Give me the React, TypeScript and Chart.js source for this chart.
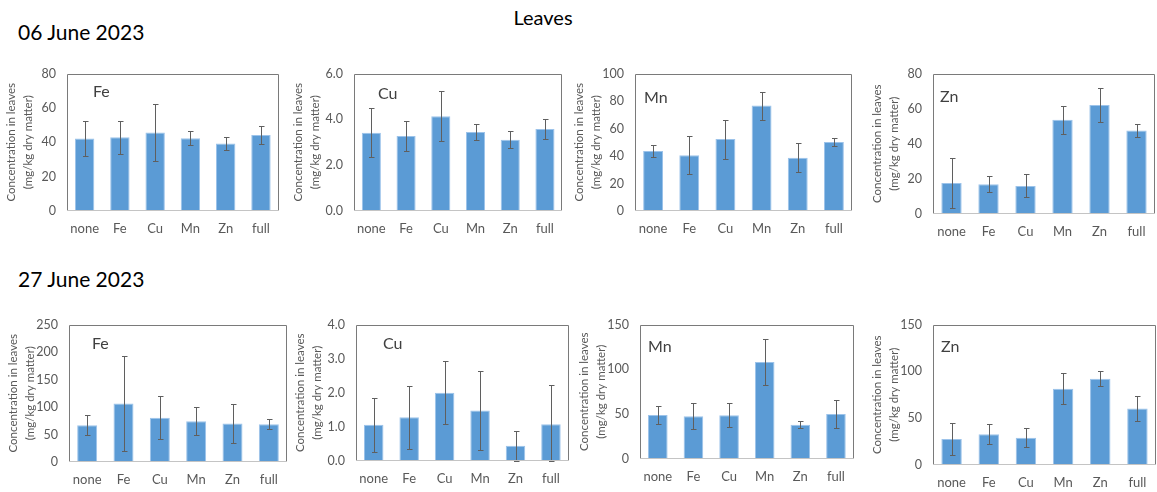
import React, { useEffect, useRef } from "react";
import { Chart, registerables } from "chart.js";
Chart.register(...registerables);

// ---------- data ----------
const categories = ["none", "Fe", "Cu", "Mn", "Zn", "full"];

const feJun06 = [42.2, 42.9, 45.7, 42.4, 39.3, 44.2];
const feJun06Err = [10.3, 9.6, 16.7, 4.2, 3.6, 5.2];
const cuJun06 = [3.42, 3.27, 4.14, 3.45, 3.11, 3.58];
const cuJun06Err = [1.06, 0.66, 1.08, 0.35, 0.38, 0.45];
const mnJun06 = [43.6, 40.6, 52.3, 76.7, 38.8, 50.2];
const mnJun06Err = [4.3, 13.6, 14.2, 10.2, 10.4, 3.1];
const znJun06 = [17.6, 17.0, 16.0, 53.6, 62.1, 47.5];
const znJun06Err = [14.4, 4.4, 6.5, 8.0, 9.6, 3.5];

const feJun27 = [66.8, 106.2, 80.5, 74.2, 70.2, 68.5];
const feJun27Err = [18.0, 86.5, 39.4, 25.7, 35.7, 9.4];
const cuJun27 = [1.06, 1.28, 2.0, 1.48, 0.45, 1.08];
const cuJun27Err = [0.79, 0.92, 0.93, 1.15, 0.44, 1.14];
const mnJun27 = [49.1, 47.7, 48.7, 108.2, 38.3, 50.1];
const mnJun27Err = [9.8, 14.8, 13.4, 26.0, 3.8, 16.0];
const znJun27 = [27.8, 32.8, 29.1, 81.4, 92.1, 60.3];
const znJun27Err = [16.6, 10.7, 10.2, 16.4, 7.9, 12.9];

const panelLabels = ["Fe", "Cu", "Mn", "Zn", "Fe", "Cu", "Mn", "Zn"];
const panelValues = [feJun06, cuJun06, mnJun06, znJun06, feJun27, cuJun27, mnJun27, znJun27];
const panelErrors = [feJun06Err, cuJun06Err, mnJun06Err, znJun06Err, feJun27Err, cuJun27Err, mnJun27Err, znJun27Err];
const yMaxes = [80, 6, 100, 80, 250, 4, 150, 150];
const ySteps = [20, 2, 20, 20, 50, 1, 50, 50];
const yDecimals = [0, 1, 0, 0, 0, 1, 0, 0];

const pageTitle = "Leaves";
const dateLabels = ["06 June 2023", "27 June 2023"];
const yTitleLines = ["Concentration in leaves", "(mg/kg dry matter)"];

// ---------- layout (plot areas in page px) ----------
const plotBoxes = [
  { l: 67, r: 279, t: 65, b: 211, lx: 26, ly: 18 },
  { l: 354, r: 563, t: 65, b: 211, lx: 24, ly: 20 },
  { l: 635, r: 852, t: 65, b: 211, lx: 9, ly: 24 },
  { l: 933, r: 1155, t: 65, b: 214, lx: 7, ly: 23 },
  { l: 69, r: 287, t: 316, b: 462, lx: 23, ly: 19 },
  { l: 356, r: 569, t: 316, b: 461, lx: 27, ly: 19 },
  { l: 640, r: 854, t: 316, b: 459, lx: 8, ly: 22 },
  { l: 933, r: 1156, t: 316, b: 465, lx: 8, ly: 22 },
];

const FONT = "Lato, 'Open Sans', sans-serif";
const Y_W = 66;
const X_H = 30;
const PAD_T = 10;
const PAD_R = 1;

function Panel({ idx }: { idx: number }) {
  const ref = useRef<HTMLCanvasElement>(null);
  const box = plotBoxes[idx];
  const left = box.l - Y_W;
  const top = box.t - PAD_T;
  const width = box.r + PAD_R - left;
  const height = box.b + X_H - top;

  useEffect(() => {
    const values = panelValues[idx];
    const errs = panelErrors[idx];
    const dec = yDecimals[idx];
    const errorBars = {
      id: "errorBars" + idx,
      afterDatasetsDraw(chart: any) {
        const meta = chart.getDatasetMeta(0);
        const y = chart.scales.y;
        const ctx = chart.ctx;
        ctx.save();
        ctx.strokeStyle = "#5f5f5f";
        ctx.lineWidth = 1;
        meta.data.forEach((bar: any, i: number) => {
          const v = values[i];
          const yt = Math.round(y.getPixelForValue(v + errs[i])) + 0.5;
          const yb = Math.round(y.getPixelForValue(Math.max(0, v - errs[i]))) + 0.5;
          const x = Math.round(bar.x) + 0.5;
          ctx.beginPath();
          ctx.moveTo(x, yt);
          ctx.lineTo(x, yb);
          ctx.moveTo(x - 2.5, yt);
          ctx.lineTo(x + 3, yt);
          ctx.moveTo(x - 2.5, yb);
          ctx.lineTo(x + 3, yb);
          ctx.stroke();
        });
        ctx.restore();
      },
    };
    const frame = {
      id: "frame" + idx,
      afterDraw(chart: any) {
        const a = chart.chartArea;
        const ctx = chart.ctx;
        ctx.save();
        ctx.lineWidth = 1;
        ctx.strokeStyle = "#7a7a7a";
        const L = Math.round(a.left) + 0.5;
        const R = Math.round(a.right) - 0.5;
        const T = Math.round(a.top) + 0.5;
        const B = Math.round(a.bottom) - 0.5;
        ctx.beginPath();
        ctx.moveTo(L, B);
        ctx.lineTo(L, T);
        ctx.lineTo(R, T);
        ctx.lineTo(R, B);
        ctx.stroke();
        ctx.strokeStyle = "#c4c4c4";
        ctx.beginPath();
        ctx.moveTo(L, B);
        ctx.lineTo(R, B);
        ctx.stroke();
        ctx.fillStyle = "#404040";
        ctx.font = "16px " + FONT;
        ctx.textBaseline = "middle";
        ctx.textAlign = "left";
        ctx.fillText(panelLabels[idx], a.left + box.lx, a.top + box.ly);
        ctx.restore();
      },
    };
    const chart = new Chart(ref.current as HTMLCanvasElement, {
      type: "bar",
      data: {
        labels: categories,
        datasets: [
          {
            data: values,
            backgroundColor: "#5B9BD5",
            borderColor: "#9cc3ea",
            borderWidth: 1,
            barPercentage: 0.55,
            categoryPercentage: 1,
          },
        ],
      },
      options: {
        animation: false,
        responsive: true,
        maintainAspectRatio: false,
        layout: { autoPadding: false, padding: { top: PAD_T, right: PAD_R, left: 0, bottom: 0 } } as any,
        plugins: { legend: { display: false }, tooltip: { enabled: false } },
        scales: {
          x: {
            grid: { display: false, drawTicks: false },
            border: { display: false },
            ticks: { color: "#595959", font: { family: FONT, size: 13 }, padding: 10, maxRotation: 0 },
            afterFit: (s: any) => {
              s.height = X_H;
            },
          },
          y: {
            min: 0,
            max: yMaxes[idx],
            grid: { display: false, drawTicks: false },
            border: { display: false },
            ticks: {
              stepSize: ySteps[idx],
              color: "#595959",
              font: { family: FONT, size: 12.5 },
              padding: 11,
              callback: (v: any) => Number(v).toFixed(dec),
            },
            title: {
              display: true,
              text: yTitleLines,
              color: "#595959",
              font: { family: FONT, size: 11.5, lineHeight: 1.55 },
              padding: { top: 1, bottom: 0 },
            },
            afterFit: (s: any) => {
              s.width = Y_W;
            },
          },
        },
      },
      plugins: [errorBars, frame],
    });
    return () => chart.destroy();
  }, [idx]);

  return (
    <div style={{ position: "absolute", left, top, width, height }}>
      <canvas ref={ref} />
    </div>
  );
}

export default function App() {
  return (
    <div
      style={{
        position: "absolute",
        left: 0,
        top: 0,
        width: 1157,
        height: 492,
        overflow: "hidden",
        background: "#ffffff",
        fontFamily: FONT,
      }}
    >
      <div style={{ position: "absolute", left: 0, width: 1086, top: 6, textAlign: "center", fontSize: 20, lineHeight: "22px", color: "#000" }}>
        {pageTitle}
      </div>
      <div style={{ position: "absolute", left: 18, top: 20, fontSize: 21, lineHeight: "24px", color: "#000" }}>
        {dateLabels[0]}
      </div>
      <div style={{ position: "absolute", left: 18, top: 267, fontSize: 21, lineHeight: "24px", color: "#000" }}>
        {dateLabels[1]}
      </div>
      {plotBoxes.map((_, i) => (
        <Panel key={i} idx={i} />
      ))}
    </div>
  );
}
